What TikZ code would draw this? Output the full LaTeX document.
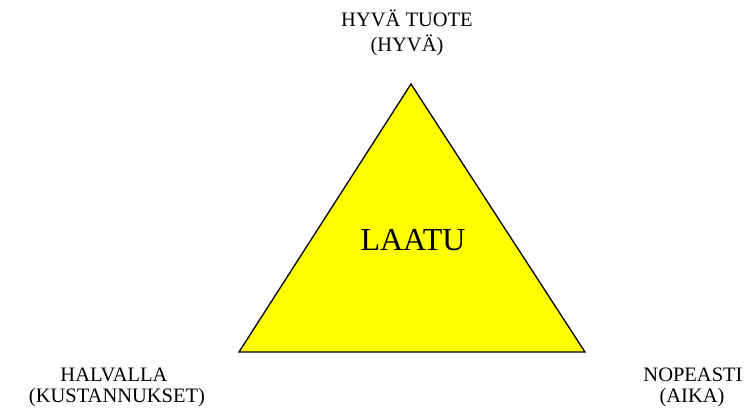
\documentclass[tikz,border=0pt]{standalone}
\usepackage{fontspec}
\setmainfont{Liberation Serif}
\definecolor{ylw}{RGB}{255,255,0}
\begin{document}
\begin{tikzpicture}[x=1pt,y=-1pt,
  lbl/.style={anchor=base,inner sep=0pt,font=\fontsize{20.5}{24}\selectfont},
  big/.style={anchor=base,inner sep=0pt,font=\fontsize{32}{38}\selectfont}]
\useasboundingbox (0,0) rectangle (744,407);
\coordinate (top) at (411,84);
\coordinate (bl) at (239,352);
\coordinate (br) at (585,352);
\filldraw[fill=ylw,draw=black,line width=1.3pt,line join=miter] (top) -- (bl) -- (br) -- cycle;
\node[big] (laatu) at (413,250) {LAATU};
\node[lbl] (hyva1) at (407,26.5) {HYVÄ TUOTE};
\node[lbl] (hyva2) at (407,51.5) {(HYVÄ)};
\node[lbl] (halv1) at (114,381) {HALVALLA};
\node[lbl] (halv2) at (117,402) {(KUSTANNUKSET)};
\node[lbl] (nop1) at (693,381) {NOPEASTI};
\node[lbl] (nop2) at (692,402) {(AIKA)};
\end{tikzpicture}
\end{document}
